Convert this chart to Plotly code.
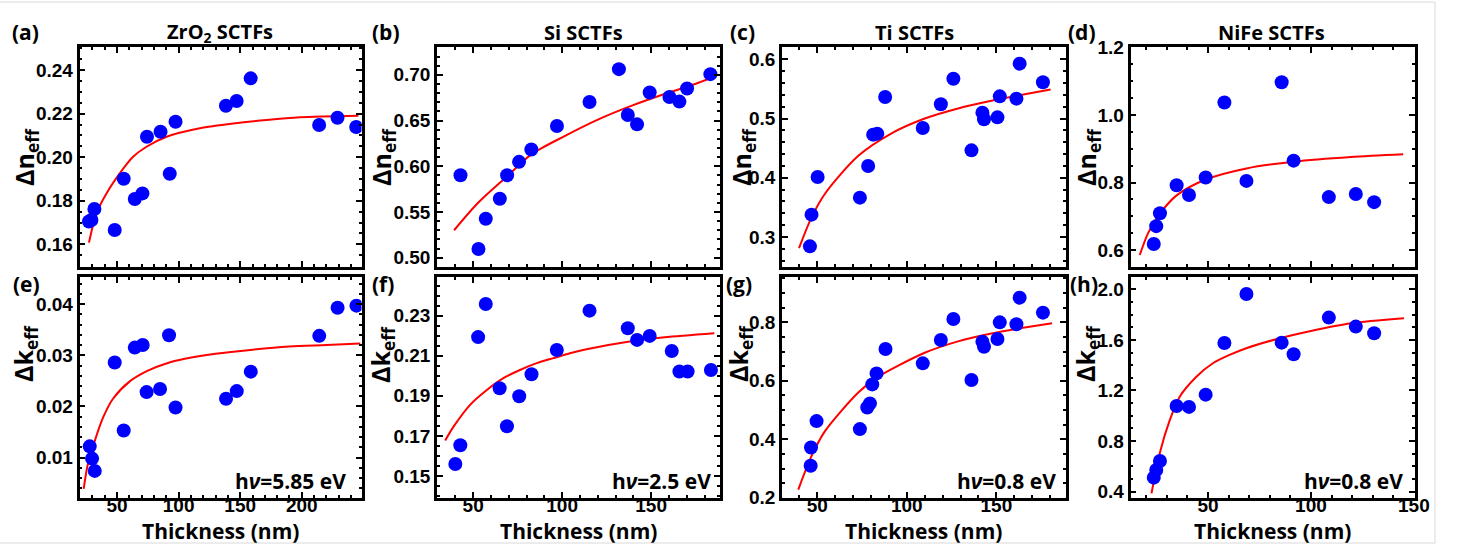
import plotly.graph_objects as go

W, H = 1461, 554

# ---------------- data ----------------
# (a) ZrO2, delta n_eff
zro2_n_t = [27.2, 29.2, 31.6, 48.1, 55.4, 64.4, 70.6, 74.3, 85.3, 92.8, 97.5, 138.4, 147.1, 158.5, 214.1, 229.0, 244.2]
zro2_n_v = [0.1705, 0.1712, 0.1762, 0.1666, 0.1901, 0.1808, 0.1834, 0.2094, 0.2117, 0.1924, 0.2163, 0.2236, 0.2258, 0.2362, 0.2148, 0.2181, 0.2139]
zro2_n_fit_t = [27.2, 33.3, 41.4, 52.2, 63.0, 73.9, 90.2, 117.2, 144.3, 171.4, 198.5, 246.0]
zro2_n_fit_v = [0.1608, 0.1743, 0.1834, 0.1926, 0.2002, 0.2048, 0.2094, 0.2133, 0.2155, 0.2171, 0.2183, 0.2190]

# (e) ZrO2, delta k_eff
zro2_k_t = [27.8, 29.7, 31.9, 48.1, 55.4, 64.4, 70.8, 74.0, 84.9, 92.2, 97.5, 138.5, 147.2, 158.6, 214.2, 229.1, 244.4]
zro2_k_v = [0.0122, 0.0098, 0.0074, 0.0286, 0.0153, 0.0315, 0.0320, 0.0228, 0.0234, 0.0339, 0.0198, 0.0215, 0.0230, 0.0268, 0.0338, 0.0393, 0.0397]
zro2_k_fit_t = [22.9, 26.0, 30.5, 38.6, 46.7, 60.3, 75.0, 90.0, 105.0, 130.0, 160.0, 190.0, 220.0, 247.5]
zro2_k_fit_v = [0.0039, 0.0084, 0.0122, 0.0178, 0.0215, 0.0249, 0.0270, 0.0284, 0.0293, 0.0303, 0.0311, 0.0317, 0.0320, 0.0323]

# (b) Si, delta n_eff
si_n_t = [42.9, 53.0, 57.1, 65.0, 69.1, 75.8, 82.7, 97.1, 115.4, 131.9, 136.9, 142.1, 149.2, 160.3, 165.9, 170.2, 183.3]
si_n_v = [0.5901, 0.5095, 0.5425, 0.5645, 0.5901, 0.6048, 0.6183, 0.6440, 0.6703, 0.7062, 0.6560, 0.6458, 0.6806, 0.6758, 0.6707, 0.6850, 0.7007]
si_n_fit_t = [39.3, 52.8, 69.1, 82.7, 101.4, 120.1, 138.8, 157.5, 176.2, 185.5]
si_n_fit_v = [0.530, 0.560, 0.589, 0.613, 0.633, 0.651, 0.666, 0.679, 0.691, 0.698]

# (f) Si, delta k_eff
si_k_t = [40.0, 42.8, 52.8, 57.1, 64.9, 69.0, 75.9, 82.8, 97.0, 115.4, 132.3, 136.9, 142.1, 149.2, 161.6, 165.9, 170.5, 183.6]
si_k_v = [0.1560, 0.1653, 0.2193, 0.2358, 0.1938, 0.1748, 0.1898, 0.2008, 0.2129, 0.2325, 0.2535, 0.2237, 0.2179, 0.2199, 0.2124, 0.2021, 0.2021, 0.2029]
si_k_fit_t = [34.3, 39.0, 48.3, 57.7, 67.0, 76.3, 85.7, 95.1, 104.4, 113.7, 138.8, 157.5, 185.5]
si_k_fit_v = [0.1677, 0.1746, 0.1855, 0.1929, 0.1988, 0.2029, 0.2063, 0.2088, 0.2112, 0.2132, 0.2172, 0.2192, 0.2212]

# (c) Ti, delta n_eff
ti_n_t = [45.9, 46.8, 50.2, 73.8, 78.4, 81.2, 83.5, 87.9, 108.9, 119.0, 126.0, 136.1, 142.2, 143.1, 150.6, 151.9, 161.2, 163.0, 176.0]
ti_n_v = [0.2842, 0.3377, 0.4013, 0.3664, 0.4199, 0.4728, 0.4745, 0.5364, 0.4840, 0.5240, 0.5673, 0.4463, 0.5099, 0.4987, 0.5020, 0.5375, 0.5336, 0.5927, 0.5612]
ti_n_fit_t = [39.8, 46.8, 54.3, 72.9, 91.5, 110.0, 128.6, 147.2, 165.8, 180.3]
ti_n_fit_v = [0.281, 0.333, 0.373, 0.437, 0.475, 0.500, 0.517, 0.530, 0.541, 0.549]

# (g) Ti, delta k_eff
ti_k_t = [46.3, 46.5, 49.6, 73.8, 77.9, 79.4, 80.7, 83.1, 88.1, 108.9, 119.0, 126.0, 136.1, 142.2, 143.1, 150.6, 151.9, 161.2, 163.0, 176.0]
ti_k_v = [0.3094, 0.3721, 0.4623, 0.4349, 0.5090, 0.5227, 0.5878, 0.6254, 0.7087, 0.6597, 0.7395, 0.8114, 0.6026, 0.7338, 0.7167, 0.7429, 0.8000, 0.7932, 0.8844, 0.8331]
ti_k_fit_t = [39.4, 46.5, 54.3, 72.9, 83.0, 110.0, 128.6, 147.2, 165.8, 181.1]
ti_k_fit_v = [0.228, 0.339, 0.428, 0.560, 0.610, 0.696, 0.735, 0.762, 0.782, 0.797]

# (d) NiFe, delta n_eff
nife_t = [23.7, 24.9, 26.7, 34.8, 40.8, 48.9, 58.0, 68.7, 85.8, 91.6, 108.7, 121.8, 130.7]
nife_n_v = [0.618, 0.671, 0.709, 0.792, 0.763, 0.815, 1.037, 0.805, 1.097, 0.865, 0.757, 0.766, 0.742]
nife_n_fit_t = [16.9, 21.0, 26.8, 34.8, 48.9, 68.7, 91.6, 119.4, 144.8]
nife_n_fit_v = [0.5855, 0.651, 0.709, 0.762, 0.809, 0.842, 0.862, 0.876, 0.884]

# (h) NiFe, delta k_eff
nife_k_v = [0.511, 0.571, 0.643, 1.077, 1.070, 1.167, 1.575, 1.963, 1.578, 1.486, 1.776, 1.705, 1.652]
nife_k_fit_t = [22.6, 26.6, 31.5, 36.3, 44.4, 52.4, 60.5, 68.6, 83.1, 100.0, 119.4, 145.2]
nife_k_fit_v = [0.387, 0.704, 0.967, 1.151, 1.309, 1.415, 1.481, 1.534, 1.605, 1.670, 1.731, 1.771]

titles = ["ZrO<sub>2</sub> SCTFs", "Si SCTFs", "Ti SCTFs", "NiFe SCTFs"]
letters = ["(a)", "(b)", "(c)", "(d)", "(e)", "(f)", "(g)", "(h)"]
photon = ["h<i>ν</i>=5.85 eV", "h<i>ν</i>=2.5 eV", "h<i>ν</i>=0.8 eV", "h<i>ν</i>=0.8 eV"]

x_ticks = [[50, 100, 150, 200], [50, 100, 150], [50, 100, 150], [50, 100, 150]]
top_yticks = [[0.16, 0.18, 0.20, 0.22, 0.24], [0.50, 0.55, 0.60, 0.65, 0.70], [0.3, 0.4, 0.5, 0.6], [0.6, 0.8, 1.0, 1.2]]
bot_yticks = [[0.01, 0.02, 0.03, 0.04], [0.15, 0.17, 0.19, 0.21, 0.23], [0.2, 0.4, 0.6, 0.8], [0.4, 0.8, 1.2, 1.6, 2.0]]
top_yfmt = [".2f", ".2f", ".1f", ".1f"]
bot_yfmt = [".2f", ".2f", ".1f", ".1f"]

# ---------------- layout geometry (pixels) ----------------
col_px = [(79.5, 361.5), (437, 720), (782, 1065.5), (1130.5, 1414.5)]
row_px = [(47, 267), (277, 498)]
x_ranges = [[19.5, 248.5], [29.7, 188.7], [30.3, 188.6], [12.4, 150.3]]
top_yr = [[0.1496, 0.2506], [0.4898, 0.7304], [0.2493, 0.6208], [0.55, 1.2015]]
bot_yr = [[0.0021, 0.0453], [0.139, 0.2493], [0.1993, 0.955], [0.35, 2.097]]
x_minor = [10, 10, 10, 10]
top_minor = [0.005, 0.01, 0.02, 0.05]
bot_minor = [0.002, 0.005, 0.05, 0.1]

panels = [
    (zro2_n_t, zro2_n_v, zro2_n_fit_t, zro2_n_fit_v),
    (si_n_t, si_n_v, si_n_fit_t, si_n_fit_v),
    (ti_n_t, ti_n_v, ti_n_fit_t, ti_n_fit_v),
    (nife_t, nife_n_v, nife_n_fit_t, nife_n_fit_v),
    (zro2_k_t, zro2_k_v, zro2_k_fit_t, zro2_k_fit_v),
    (si_k_t, si_k_v, si_k_fit_t, si_k_fit_v),
    (ti_k_t, ti_k_v, ti_k_fit_t, ti_k_fit_v),
    (nife_t, nife_k_v, nife_k_fit_t, nife_k_fit_v),
]

TICKFONT = dict(family="Liberation Sans", size=19, color="black", weight="bold")
TITLEFONT = "Open Sans"

fig = go.Figure()
layout = dict(width=W, height=H, margin=dict(l=0, r=0, t=0, b=0, autoexpand=False), autosize=False,
              paper_bgcolor="white", plot_bgcolor="white", showlegend=False)


def px2x(p):
    return p / W


def px2y(p):
    return 1 - p / H


annotations = []
for i, (xs, ys, fx, fy) in enumerate(panels):
    r, c = divmod(i, 4)
    n = i + 1
    xa = "x" if n == 1 else f"x{n}"
    ya = "y" if n == 1 else f"y{n}"
    fig.add_trace(go.Scatter(x=fx, y=fy, mode="lines", xaxis=xa, yaxis=ya,
                             line=dict(color="#ff0000", width=2, shape="spline", smoothing=0.8),
                             hoverinfo="skip"))
    fig.add_trace(go.Scatter(x=xs, y=ys, mode="markers", xaxis=xa, yaxis=ya,
                             marker=dict(color="#0000ff", size=14, line=dict(width=0))))
    x0, x1 = col_px[c]
    y0, y1 = row_px[r]
    common = dict(showline=True, linecolor="black", linewidth=2.5, mirror="ticks",
                  ticks="inside", ticklen=6, tickwidth=2, tickcolor="black",
                  showgrid=False, zeroline=False, tickfont=TICKFONT, automargin=False)
    xkey = "xaxis" if n == 1 else f"xaxis{n}"
    ykey = "yaxis" if n == 1 else f"yaxis{n}"
    layout[xkey] = dict(common, domain=[px2x(x0), px2x(x1)], anchor=ya,
                        range=x_ranges[c], tickvals=x_ticks[c],
                        showticklabels=(r == 1), ticklabelstandoff=-12,
                        minor=dict(ticks="inside", ticklen=3, tickwidth=1.5, tickcolor="black",
                                   dtick=x_minor[c], tick0=0, showgrid=False))
    yt = top_yticks[c] if r == 0 else bot_yticks[c]
    layout[ykey] = dict(common, domain=[px2y(y1), px2y(y0)], anchor=xa,
                        range=top_yr[c] if r == 0 else bot_yr[c], tickvals=yt,
                        tickformat=top_yfmt[c] if r == 0 else bot_yfmt[c],
                        minor=dict(ticks="inside", ticklen=3, tickwidth=1.5, tickcolor="black",
                                   dtick=top_minor[c] if r == 0 else bot_minor[c], tick0=0,
                                   showgrid=False))

# panel titles
title_cx = [220, 583, 914, 1271]
for c in range(4):
    annotations.append(dict(text=f"<b>{titles[c]}</b>", x=px2x(title_cx[c]), y=px2y(33),
                            xref="paper", yref="paper", showarrow=False, xanchor="center",
                            yanchor="middle", font=dict(family=TITLEFONT, size=20, color="black")))

# panel letters
letter_pos = [(10, 32), (370, 32), (728, 32), (1066, 32),
              (11, 284), (370, 284), (724, 284), (1068, 284)]
for k, (lx, ly) in enumerate(letter_pos):
    annotations.append(dict(text=f"<b>{letters[k]}</b>", x=px2x(lx), y=px2y(ly),
                            xref="paper", yref="paper", showarrow=False, xanchor="left",
                            yanchor="middle", font=dict(family=TITLEFONT, size=21, color="black")))

# y-axis titles
ytitle_top_x = [25, 382, 742, 1087]
ytitle_bot_x = [24, 381, 739, 1086]
for c in range(4):
    annotations.append(dict(text="<b>Δn<sub>eff</sub></b>", x=px2x(ytitle_top_x[c]), y=px2y(157),
                            xref="paper", yref="paper", showarrow=False, textangle=-90,
                            xanchor="center", yanchor="middle",
                            font=dict(family=TITLEFONT, size=25, color="black")))
    annotations.append(dict(text="<b>Δk<sub>eff</sub></b>", x=px2x(ytitle_bot_x[c]), y=px2y(354),
                            xref="paper", yref="paper", showarrow=False, textangle=-90,
                            xanchor="center", yanchor="middle",
                            font=dict(family=TITLEFONT, size=25, color="black")))

# x-axis titles
for c in range(4):
    cx = (col_px[c][0] + col_px[c][1]) / 2
    annotations.append(dict(text="<b>Thickness (nm)</b>", x=px2x(cx), y=px2y(531),
                            xref="paper", yref="paper", showarrow=False, xanchor="center",
                            yanchor="middle", font=dict(family=TITLEFONT, size=21, color="black")))

# photon energy labels
ph_right = [348, 713, 1058, 1405]
ph_y = [481, 481, 481, 481]
for c in range(4):
    annotations.append(dict(text=f"<b>{photon[c]}</b>", x=px2x(ph_right[c]), y=px2y(ph_y[c]),
                            xref="paper", yref="paper", showarrow=False, xanchor="right",
                            yanchor="middle", font=dict(family=TITLEFONT, size=21, color="black")))

layout["annotations"] = annotations
layout["shapes"] = [
    dict(type="line", xref="paper", yref="paper", x0=0, x1=px2x(1435), y0=px2y(2), y1=px2y(2),
         line=dict(color="#d9d9d9", width=1)),
    dict(type="line", xref="paper", yref="paper", x0=px2x(1435), x1=px2x(1435), y0=px2y(2), y1=px2y(543),
         line=dict(color="#d9d9d9", width=1)),
    dict(type="line", xref="paper", yref="paper", x0=0, x1=px2x(1435), y0=px2y(543), y1=px2y(543),
         line=dict(color="#d9d9d9", width=1)),
]
fig.update_layout(**layout)
fig.write_html("out.html", config={"displayModeBar": False},
               post_script="document.body.style.margin='0';document.body.style.overflow='hidden';")
